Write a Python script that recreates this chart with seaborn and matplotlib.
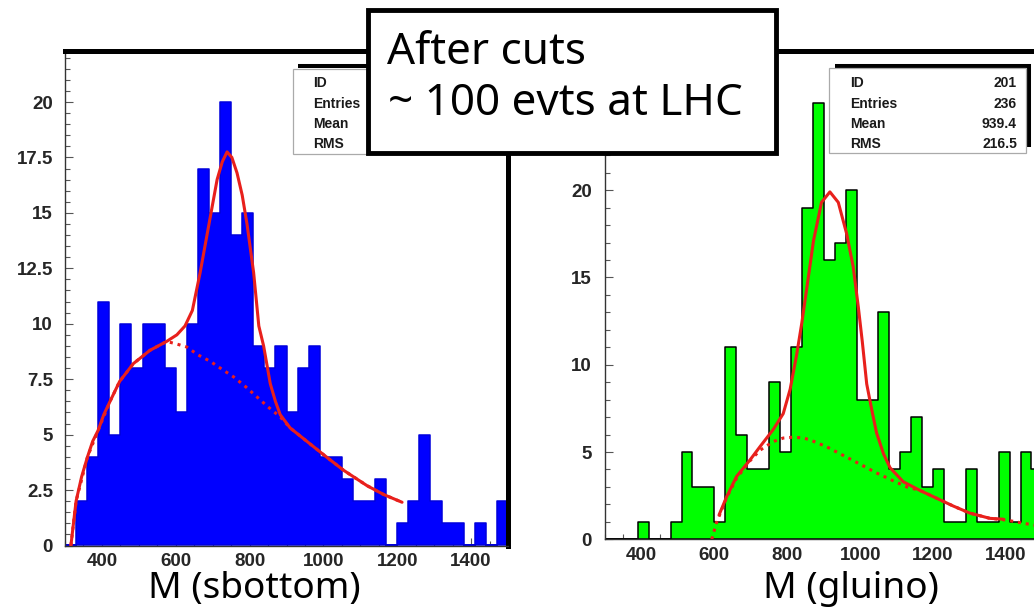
import numpy as np
import pandas as pd
import matplotlib
matplotlib.use("Agg")
import matplotlib.pyplot as plt
from matplotlib.patches import Rectangle
from matplotlib.lines import Line2D
from matplotlib.ticker import MultipleLocator, FixedLocator, FuncFormatter
import seaborn as sns

# ---- binning shared by both histograms (30 GeV bins, 300..1500) ----
bin_lo, bin_hi, n_bins = 300, 1500, 40
bin_centers = [315 + 30 * i for i in range(n_bins)]

# ---- sbottom mass histogram ----
sbottom_counts = [0, 2, 4, 11, 5, 10, 8, 10, 10, 8,
                  6, 10, 17, 15, 20, 14, 15, 9, 8, 9,
                  6, 8, 9, 4, 4, 3, 2, 2, 3, 0,
                  1, 2, 5, 2, 1, 1, 0, 1, 0, 2]

# total fit (signal + background)
sbottom_fit_x = [316, 330, 345, 361, 375, 390, 405, 422, 448, 485, 530, 575, 603,
                 625, 645, 666, 689, 712, 726, 739, 752, 766, 780, 793, 811, 825,
                 838, 856, 870, 883, 910, 955, 1000, 1054, 1118, 1163, 1213]
sbottom_fit_y = [0.0, 2.0, 3.1, 4.0, 4.7, 5.2, 5.9, 6.5, 7.4, 8.2, 8.8, 9.2, 9.5,
                 9.9, 10.6, 12.3, 14.4, 16.5, 17.3, 17.75, 17.5, 16.8, 15.8, 14.5, 12.3, 9.9,
                 9.0, 7.3, 6.5, 5.9, 5.3, 4.7, 4.1, 3.4, 2.7, 2.3, 1.95]
# background component
sbottom_bkg_x = [316, 330, 361, 390, 422, 448, 485, 530, 575, 600, 630, 660, 694,
                 725, 757, 790, 820, 850, 883, 910, 955, 1000, 1054, 1118, 1163, 1213]
sbottom_bkg_y = [0.0, 2.0, 4.0, 5.2, 6.5, 7.4, 8.2, 8.8, 9.2, 9.1, 8.95, 8.6, 8.3,
                 7.95, 7.6, 7.15, 6.7, 6.25, 5.8, 5.3, 4.7, 4.1, 3.4, 2.7, 2.3, 1.95]

# ---- gluino mass histogram ----
gluino_counts = [0, 0, 0, 1, 0, 0, 1, 5, 3, 3,
                 1, 11, 6, 4, 4, 9, 5, 11, 19, 25,
                 16, 17, 20, 8, 8, 13, 4, 5, 7, 3,
                 4, 1, 1, 4, 1, 1, 5, 1, 5, 4]

gluino_fit_x = [613, 634, 661, 698, 725, 762, 789, 808, 826, 840, 853, 872, 894,
                917, 940, 963, 981, 995, 1006, 1018, 1032, 1045, 1064, 1082, 1118,
                1164, 1210, 1256, 1301, 1356, 1393]
gluino_fit_y = [1.4, 2.45, 3.6, 4.55, 5.3, 6.3, 7.2, 8.6, 10.6, 12.4, 14.3, 17.1, 19.3,
                19.9, 19.3, 17.5, 15.6, 13.3, 11.3, 8.9, 7.4, 6.1, 4.9, 4.1, 3.3,
                2.8, 2.35, 1.9, 1.5, 1.2, 1.15]
gluino_bkg_x = [593, 606, 634, 661, 698, 725, 762, 789, 817, 845, 862, 908, 954,
                1000, 1045, 1091, 1128, 1164, 1210, 1256, 1301, 1356, 1402, 1440, 1475, 1500]
gluino_bkg_y = [0.0, 0.96, 2.4, 3.5, 4.5, 5.1, 5.6, 5.8, 5.85, 5.8, 5.7, 5.3, 4.8,
                4.3, 3.8, 3.35, 3.0, 2.8, 2.35, 1.9, 1.5, 1.2, 1.1, 0.95, 0.82, 0.75]

sbottom_yticks = [0, 2.5, 5, 7.5, 10, 12.5, 15, 17.5, 20]
gluino_yticks = [0, 5, 10, 15, 20]
mass_ticks = [400, 600, 800, 1000, 1200, 1400]

stat_labels = ["ID", "Entries", "Mean", "RMS"]
gluino_stats = ["201", "236", "939.4", "216.5"]

sns.set_theme(style="white")
plt.rcParams["font.family"] = ["Liberation Sans", "DejaVu Sans"]
plt.rcParams["font.weight"] = "bold"

W, H = 1034, 607
fig = plt.figure(figsize=(W / 100, H / 100), dpi=100)
fig.patch.set_facecolor("white")


def fx(x):
    return x / W


def fy(y):
    return 1 - y / H


RED = "#e8201c"


def panel(rect, counts, fill, edge, fit_x, fit_y, bkg_x, bkg_y, ymax, yticks, ymin, ypad):
    ax = fig.add_axes(rect)
    df = pd.DataFrame({"mass": bin_centers, "n": counts})
    sns.histplot(data=df, x="mass", weights="n", bins=n_bins, binrange=(bin_lo, bin_hi),
                 element="step", fill=True, color=fill, alpha=1, edgecolor=edge,
                 linewidth=1.1, ax=ax)
    sns.lineplot(x=bkg_x, y=bkg_y, ax=ax, color=RED, lw=2.2, sort=False,
                 estimator=None, linestyle=(0, (1, 1.6)), zorder=3)
    sns.lineplot(x=fit_x, y=fit_y, ax=ax, color=RED, lw=2.2, sort=False,
                 estimator=None, zorder=4)
    ax.set_xlim(bin_lo, bin_hi)
    ax.set_ylim(0, ymax)
    ax.set_xlabel("")
    ax.set_ylabel("")
    ax.set_facecolor("white")
    ax.xaxis.set_major_locator(FixedLocator(mass_ticks))
    ax.xaxis.set_minor_locator(MultipleLocator(50))
    ax.yaxis.set_major_locator(FixedLocator(yticks))
    ax.yaxis.set_minor_locator(MultipleLocator(ymin))
    ax.yaxis.set_major_formatter(FuncFormatter(lambda v, p: f"{v:g}"))
    ax.tick_params(which="both", direction="in", color="#555555", width=0.8,
                   bottom=True, left=True, top=False, right=False)
    ax.tick_params(which="major", length=6)
    ax.tick_params(which="minor", length=3.5)
    ax.tick_params(axis="x", pad=5.4, labelsize=13.5)
    ax.tick_params(axis="y", pad=ypad, labelsize=13.5)
    for s in ("left", "bottom"):
        ax.spines[s].set_linewidth(1.0)
        ax.spines[s].set_color("#333333")
    for s in ("top", "right"):
        ax.spines[s].set_linewidth(3.6)
        ax.spines[s].set_color("black")
    return ax


ax1 = panel([fx(65), fy(545.5), (508 - 65) / W, (545.5 - 51) / H],
            sbottom_counts, "#0000ff", "#0000dd",
            sbottom_fit_x, sbottom_fit_y, sbottom_bkg_x, sbottom_bkg_y,
            22.3, sbottom_yticks, 0.5, 8.6)
ax2 = panel([fx(605), fy(539.3), (1042.4 - 605) / W, (539.3 - 51) / H],
            gluino_counts, "#00ff00", "black",
            gluino_fit_x, gluino_fit_y, gluino_bkg_x, gluino_bkg_y,
            27.97, gluino_yticks, 1, 9.4)


def rect(x0, y0, x1, y1, **kw):
    r = Rectangle((fx(x0), fy(y1)), fx(x1) - fx(x0), fy(y0) - fy(y1),
                  transform=fig.transFigure, **kw)
    fig.add_artist(r)
    return r


def hline(x0, x1, y, lw, z):
    fig.add_artist(Line2D([fx(x0), fx(x1)], [fy(y), fy(y)], transform=fig.transFigure,
                          color="black", lw=lw, solid_capstyle="butt", zorder=z))


def vline(x, y0, y1, lw, z):
    fig.add_artist(Line2D([fx(x), fx(x)], [fy(y0), fy(y1)], transform=fig.transFigure,
                          color="black", lw=lw, solid_capstyle="butt", zorder=z))


rows_y = [87, 107.5, 128, 148]

# statistics box, sbottom panel
hline(298, 495, 65.5, 2.9, 5)
vline(493, 64, 148, 2.9, 5)
rect(293, 69, 490, 154, facecolor="white", edgecolor="#aaaaaa", lw=0.9, zorder=6)
for lab, y in zip(stat_labels, rows_y):
    fig.text(fx(313), fy(y), lab, ha="left", va="baseline", fontsize=10,
             fontweight="bold", color="#1a1a1a", zorder=7)

# statistics box, gluino panel
hline(835, 1031, 65.5, 2.9, 5)
vline(1029, 64, 147, 2.9, 5)
rect(829, 68, 1026, 153, facecolor="white", edgecolor="#aaaaaa", lw=0.9, zorder=6)
for lab, val, y in zip(stat_labels, gluino_stats, rows_y):
    fig.text(fx(850), fy(y), lab, ha="left", va="baseline", fontsize=10,
             fontweight="bold", color="#1a1a1a", zorder=7)
    fig.text(fx(1017), fy(y), val, ha="right", va="baseline", fontsize=10,
             fontweight="bold", color="#1a1a1a", zorder=7)

# annotation box
rect(367.5, 10, 775.5, 153, facecolor="white", edgecolor="black", lw=3.5, zorder=8)
fig.text(fx(387), fy(64), "After cuts", ha="left", va="baseline", fontsize=31.7,
         fontweight="normal", family=["Noto Sans", "DejaVu Sans"], color="black", zorder=9)
fig.text(fx(388), fy(115), "~ 100 evts at LHC", ha="left", va="baseline", fontsize=31.7,
         fontweight="normal", family=["Noto Sans", "DejaVu Sans"], color="black", zorder=9)

# axis titles
fig.text(fx(254), fy(598), "M (sbottom)", ha="center", va="baseline", fontsize=26.7,
         fontweight="normal", family=["Noto Sans", "DejaVu Sans"], color="black")
fig.text(fx(851), fy(598), "M (gluino)", ha="center", va="baseline", fontsize=26.7,
         fontweight="normal", family=["Noto Sans", "DejaVu Sans"], color="black")

fig.savefig("out.png", dpi=100, facecolor="white")
